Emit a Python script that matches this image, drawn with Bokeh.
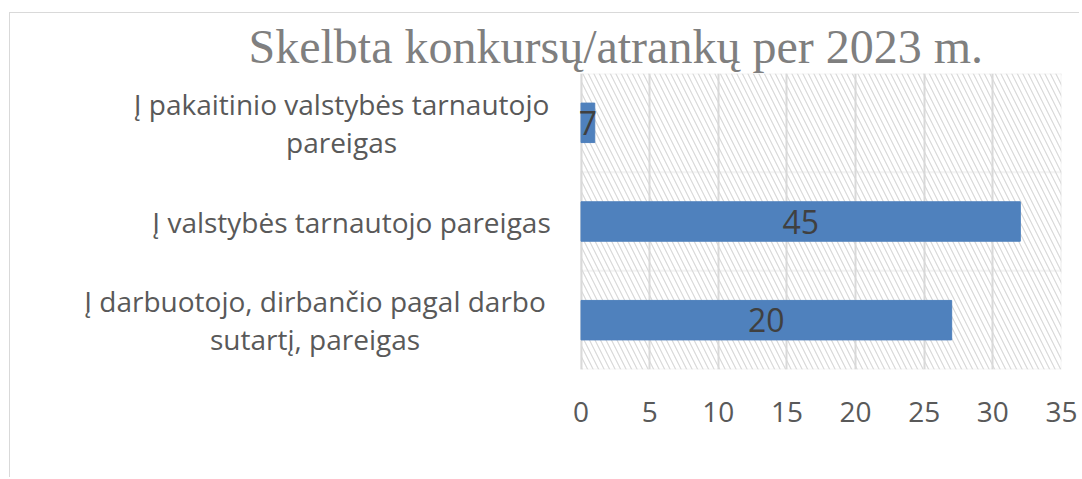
from bokeh.plotting import figure
from bokeh.models import FactorRange, Range1d, BoxAnnotation, ColumnDataSource, LabelSet, FixedTicker
from bokeh.embed import file_html
from bokeh.resources import INLINE
from bokeh.core.properties import value

# ---- data ----
categories = [
    "Į darbuotojo, dirbančio pagal darbo\nsutartį, pareigas",
    "Į valstybės tarnautojo pareigas",
    "Į pakaitinio valstybės tarnautojo\npareigas",
]
bar_values = [27, 32, 1]
bar_labels = ["20", "45", "7"]
x_ticks = [0, 5, 10, 15, 20, 25, 30, 35]
x_max = 35
title_text = "Skelbta konkursų/atrankų per 2023 m."

# ---- style / layout ----
label_offsets = [-266, -229.5, -239.5]   # px from value-axis origin to label block centre
line_gap = 38                            # px between wrapped label lines
label_area_units = 41.56                 # room left of 0 for category labels

src = ColumnDataSource(dict(cat=categories, val=bar_values, lab=bar_labels,
                            mid=[v / 2 for v in bar_values]))

# one row per wrapped line of each category label, each line centred
ln_text, ln_cat, ln_xoff, ln_yoff = [], [], [], []
for cat, off in zip(categories, label_offsets):
    parts = cat.split("\n")
    k = len(parts)
    for i, part in enumerate(parts):
        ln_text.append(part)
        ln_cat.append(cat)
        ln_xoff.append(off)
        ln_yoff.append(((k - 1) / 2 - i) * line_gap)
lines_src = ColumnDataSource(dict(text=ln_text, cat=ln_cat, zero=[0] * len(ln_text),
                                  xoff=ln_xoff, yoff=ln_yoff))

n = len(categories)
p = figure(width=1070, height=465, output_backend="svg", toolbar_location=None,
           y_range=FactorRange(*categories, range_padding=0),
           x_range=Range1d(-label_area_units, x_max),
           min_border_left=0, min_border_right=19, min_border_top=60, min_border_bottom=109)
p.margin = (12, 0, 0, 9)
p.styles = {"border-left": "1px solid #d9d9d9", "border-top": "1px solid #d9d9d9"}

p.background_fill_color = "white"
p.border_fill_color = "white"
p.outline_line_color = None

# hatched plot area
p.add_layout(BoxAnnotation(left=0, right=x_max, bottom=0, top=n,
                           fill_alpha=0, line_alpha=0, hatch_pattern="left_diagonal_line",
                           hatch_color="#d9d9d9", hatch_weight=1.2, hatch_scale=11,
                           level="underlay"))
# plot-area border and category separators
p.add_layout(BoxAnnotation(left=0, right=x_max, bottom=0, top=n, fill_alpha=0,
                           line_color="#d9d9d9", line_width=2, level="underlay"))
p.add_layout(BoxAnnotation(left=0, right=x_max, bottom=1, top=n - 1, fill_alpha=0,
                           line_color="#d9d9d9", line_width=2, level="underlay"))

# grids
p.xgrid.ticker = FixedTicker(ticks=x_ticks)
p.xgrid.grid_line_color = "#d9d9d9"
p.xgrid.grid_line_width = 2
p.ygrid.grid_line_color = None

p.hbar(y="cat", right="val", left=0, height=0.4, source=src,
       fill_color="#4f81bd", line_color="#4f81bd")

p.add_layout(LabelSet(x="mid", y="cat", text="lab", source=src,
                      text_align="center", text_baseline="middle",
                      text_font=value("Open Sans"), text_font_size="32px",
                      text_color="#404040"))

# category labels
p.add_layout(LabelSet(x="zero", y="cat", text="text", source=lines_src,
                      x_offset="xoff", y_offset="yoff",
                      text_align="center", text_baseline="middle",
                      text_font=value("Open Sans"), text_font_size="28px",
                      text_color="#595959"))

# x axis
p.xaxis.ticker = FixedTicker(ticks=x_ticks)
p.xaxis.axis_line_color = None
p.xaxis.major_tick_line_color = None
p.xaxis.minor_tick_line_color = None
p.xaxis.major_label_text_font = "Open Sans"
p.xaxis.major_label_text_font_size = "28px"
p.xaxis.major_label_text_color = "#595959"
p.xaxis.major_label_standoff = 26

p.yaxis.visible = False

# title
p.title.text = title_text
p.title.text_font = "Liberation Serif"
p.title.text_font_size = "48px"
p.title.text_font_style = "normal"
p.title.text_color = "#7f7f7f"
p.title.align = "left"
p.title.offset = 238
p.title.standoff = 2

open("out.html", "w").write(file_html(p, INLINE))
